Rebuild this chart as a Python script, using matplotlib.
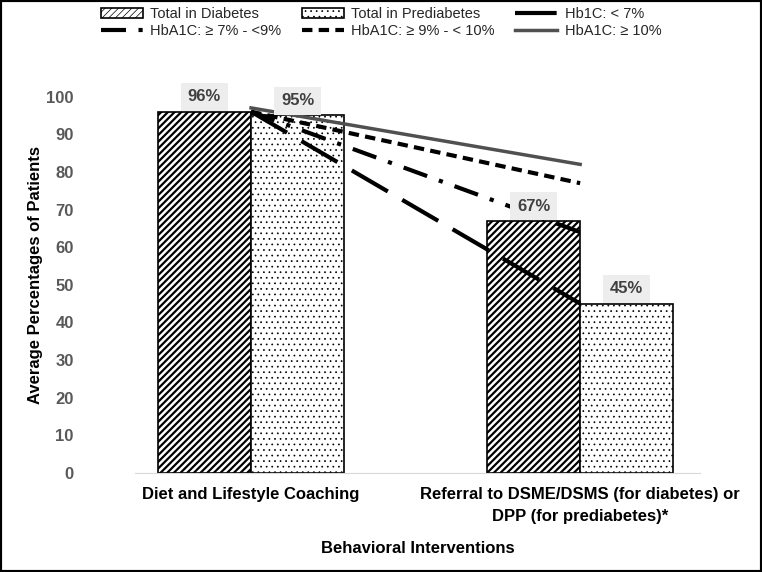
import matplotlib
matplotlib.use('Agg')
import matplotlib.pyplot as plt
from matplotlib.patches import Rectangle

plt.rcParams['font.family'] = ['Liberation Sans', 'DejaVu Sans']

# data
categories = ['Diet and Lifestyle Coaching',
              'Referral to DSME/DSMS (for diabetes) or\nDPP (for prediabetes)*']
total_diabetes = [96, 67]
total_prediabetes = [95, 45]
hba1c_lt7 = [96, 45]
hba1c_7_9 = [96, 64]
hba1c_9_10 = [96, 77]
hba1c_ge10 = [97, 82]

fig = plt.figure(figsize=(7.62, 5.72), dpi=100)
ax = fig.add_axes([0.177, 0.173, 0.742, 0.691])

x = [0, 1]
w = 0.283
plt.rcParams['hatch.linewidth'] = 1.6
b1 = ax.bar([i - w / 2 for i in x], total_diabetes, w, color='white', edgecolor='black',
            hatch='/////', linewidth=1.2, label='Total in Diabetes')
plt.rcParams['hatch.linewidth'] = 0.5
b2 = ax.bar([i + w / 2 for i in x], total_prediabetes, w, color='white', edgecolor='black',
            hatch='...', linewidth=1.2, label='Total in Prediabetes')

l1, = ax.plot(x, hba1c_lt7, color='black', lw=3, linestyle=(0, (10, 4)), label='Hb1C: < 7%')
l2, = ax.plot(x, hba1c_7_9, color='black', lw=3, linestyle=(0, (6, 3, 1, 3)),
              label='HbA1C: ≥ 7% - <9%')
l3, = ax.plot(x, hba1c_9_10, color='black', lw=3, linestyle=(0, (2.5, 1.5)),
              label='HbA1C: ≥ 9% - < 10%')
l4, = ax.plot(x, hba1c_ge10, color='#505050', lw=2.5, label='HbA1C: ≥ 10%')

# value labels with light grey boxes
for bars in (b1, b2):
    for rect in bars:
        h = rect.get_height()
        ax.text(rect.get_x() + rect.get_width() / 2, h + 3.9, f'{h:.0f}%', ha='center',
                va='center', fontsize=12, fontweight='bold', color='#404040',
                bbox=dict(boxstyle='square,pad=0.4', fc='#EDEDED', ec='none'), zorder=5)

ax.set_xlim(-0.353, 1.365)
ax.set_ylim(0, 105)
ax.set_yticks(range(0, 101, 10))
ax.set_xticks(x)
ax.set_xticklabels(categories, fontsize=12, fontweight='bold', linespacing=1.6)
ax.tick_params(axis='y', labelsize=12, colors='#595959', length=0, pad=44)
ax.tick_params(axis='x', length=0, pad=10)
for lab in ax.get_yticklabels():
    lab.set_fontweight('bold')
for s in ('top', 'right', 'left'):
    ax.spines[s].set_visible(False)
ax.spines['bottom'].set_color('#D9D9D9')

ax.set_ylabel('Average Percentages of Patients', fontsize=12, fontweight='bold', labelpad=2)
ax.set_xlabel('Behavioral Interventions', fontsize=12, fontweight='bold', labelpad=12)

# legend (column-major order so rows read like the reference)
handles = [b1, l2, b2, l3, l1, l4]
labels = [h.get_label() for h in handles]
leg = fig.legend(handles, labels, ncol=3, loc='upper center', bbox_to_anchor=(0.5, 1.01),
                 frameon=False, fontsize=10.5, handlelength=2.9, columnspacing=1.4,
                 labelspacing=0.2, handletextpad=0.5)
for t in leg.get_texts():
    t.set_color('#262626')

# black frame around the whole image
fig.patches.append(Rectangle((0, 0), 1, 1, transform=fig.transFigure, fill=False,
                             edgecolor='black', linewidth=3))

fig.savefig('out.png', dpi=100)
